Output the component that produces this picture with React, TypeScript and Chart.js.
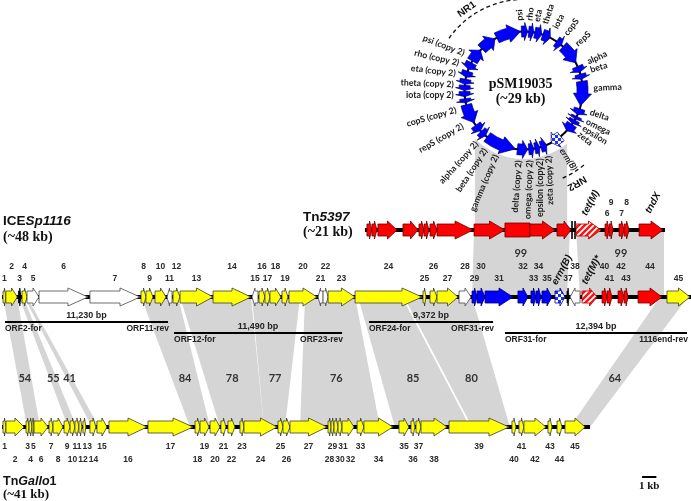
import React, { useEffect, useRef } from "react";
import { Chart, registerables } from "chart.js";

Chart.register(...registerables);

// ---------------- DATA ----------------
// Gene: [label, start kb, end kb, strand (+1 / -1 / 0 = box), kind]
type Gene = [string, number, number, number, string];

const iceGenes: Gene[] = [
  ["1", 0.0, 0.2, 1, "y"], ["2", 0.2, 1.0, 1, "y"], ["3", 1.08, 1.26, 1, "k"],
  ["4", 1.33, 1.68, 1, "y"], ["5", 1.68, 2.52, 1, "w"], ["6", 2.52, 5.94, 1, "w"],
  ["7", 6.08, 9.58, 1, "w"], ["8", 9.65, 10.0, 1, "y"], ["9", 10.0, 10.49, 1, "y"],
  ["10", 10.63, 11.4, 1, "y"], ["11", 11.47, 11.82, -1, "w"], ["12", 11.89, 12.38, 1, "y"],
  ["13", 12.38, 14.69, 1, "y"], ["14", 14.69, 17.34, 1, "y"], ["15", 17.41, 17.83, -1, "w"],
  ["16", 17.9, 18.32, 1, "y"], ["17", 18.32, 18.67, 1, "y"], ["18", 18.67, 19.44, 1, "y"],
  ["19", 19.51, 19.93, 1, "y"], ["20", 20.0, 21.96, 1, "y"], ["21", 22.03, 22.38, -1, "w"],
  ["22", 22.38, 22.73, 1, "w"], ["23", 22.73, 24.62, 1, "y"], ["24", 24.62, 29.3, 1, "y"],
  ["25", 29.37, 29.58, 1, "y"], ["26", 29.86, 30.35, 1, "y"], ["27", 30.35, 31.82, 1, "y"],
  ["28", 31.89, 32.73, 1, "w"], ["29", 32.8, 33.15, 1, "b"], ["30", 33.15, 33.71, 1, "b"],
  ["31", 33.71, 35.66, 1, "b"], ["32", 36.01, 36.71, 1, "b"], ["33", 36.92, 37.27, 1, "b"],
  ["34", 37.27, 37.62, 1, "b"], ["35", 37.69, 38.39, 1, "b"], ["erm(B)", 38.6, 39.3, 1, "check"],
  ["37", 39.44, 39.58, 1, "k"], ["38", 39.65, 40.35, -1, "w"], ["tet(M)*", 40.49, 41.54, 1, "hatch"],
  ["40", 41.89, 42.24, 1, "r"], ["41", 42.24, 42.59, 1, "r"], ["42", 43.01, 43.43, 1, "r"],
  ["43", 43.43, 43.71, 1, "r"], ["44", 44.41, 46.08, 1, "r"], ["45", 46.43, 48.04, 1, "y"],
];
const iceBackbone = [-0.07, 48.11];

const tnGenes: Gene[] = [
  ["", 25.45, 25.8, 1, "r"], ["", 25.8, 26.15, 1, "r"], ["", 26.22, 27.55, 1, "r"],
  ["", 27.97, 29.02, 1, "r"], ["", 29.09, 29.44, 1, "r"], ["", 29.44, 29.79, 1, "r"],
  ["", 29.86, 30.35, 1, "r"], ["", 30.35, 32.87, 1, "r"], ["", 32.94, 35.1, 1, "r"],
  ["", 35.1, 36.85, 0, "r"], ["", 36.85, 38.6, 1, "r"], ["", 38.74, 39.72, 1, "r"],
  ["tet(M)", 40.07, 41.82, 1, "hatch"], ["6", 42.1, 42.38, 1, "r"], ["9", 42.38, 42.66, 1, "r"],
  ["7", 43.08, 43.43, 1, "r"], ["8", 43.43, 43.78, 1, "r"], ["tndX", 44.48, 46.15, 1, "r"],
];
const tnBackbone = [25.31, 46.29];
const tnBars = [39.79, 40.0];
const tnUpperLabels = ["8", "9"];

const galloGenes: Gene[] = [
  ["1", 0.0, 0.21, 1, "y"], ["2", 0.21, 1.47, 1, "y"], ["3", 1.61, 1.82, 1, "y"],
  ["4", 1.82, 2.03, 1, "y"], ["5", 2.03, 2.17, 1, "y"], ["6", 2.17, 3.15, 1, "y"],
  ["7", 3.22, 3.5, 1, "y"], ["8", 3.5, 4.2, 1, "y"], ["9", 4.27, 4.69, 1, "y"],
  ["10", 4.69, 5.03, 1, "y"], ["11", 5.03, 5.31, 1, "y"], ["12", 5.31, 5.52, 1, "y"],
  ["13", 5.59, 5.8, 1, "y"], ["14", 6.08, 6.5, 1, "y"], ["15", 6.57, 7.27, 1, "y"],
  ["16", 7.41, 10.07, 1, "y"], ["17", 10.14, 13.29, 1, "y"], ["18", 13.43, 13.78, 1, "y"],
  ["19", 13.78, 14.41, 1, "y"], ["20", 14.48, 15.17, 1, "y"], ["21", 15.24, 15.59, 1, "y"],
  ["22", 15.73, 16.22, 1, "y"], ["23", 16.57, 16.85, 1, "y"], ["24", 16.85, 19.16, 1, "y"],
  ["25", 19.23, 19.58, 1, "y"], ["26", 19.58, 20.07, 1, "y"], ["27", 20.07, 22.66, 1, "y"],
  ["28", 22.73, 22.94, 1, "y"], ["29", 22.94, 23.15, 1, "y"], ["30", 23.15, 23.43, 1, "y"],
  ["31", 23.43, 23.71, 1, "y"], ["32", 23.71, 24.55, 1, "y"], ["33", 24.76, 25.24, 1, "y"],
  ["34", 25.24, 27.27, 1, "y"], ["35", 27.69, 28.39, 1, "y"], ["36", 28.53, 28.81, 1, "y"],
  ["37", 28.88, 29.23, 1, "y"], ["38", 29.23, 31.05, 1, "y"], ["39", 31.19, 35.38, 1, "y"],
  ["40", 35.59, 35.87, 1, "y"], ["41", 36.08, 36.43, 1, "y"], ["42", 36.43, 37.97, 1, "y"],
  ["43", 38.11, 38.39, 1, "y"], ["44", 38.74, 39.09, 1, "y"], ["45", 39.3, 40.7, 1, "y"],
];
const galloBackbone = [-0.07, 41.05];

// Homology bands: [identity %, ICE start, ICE end, TnGallo1 start, TnGallo1 end] (kb)
const iceGalloBands: [string, number, number, number, number][] = [
  ["54", 0.0, 0.98, 1.68, 2.59],
  ["55", 1.12, 1.4, 4.55, 5.15],
  ["41", 1.47, 1.68, 6.22, 6.71],
  ["84", 9.65, 12.24, 13.08, 14.48],
  ["78", 12.38, 17.34, 15.17, 18.25],
  ["77", 17.41, 20.77, 18.25, 19.72],
  ["76", 21.12, 24.62, 20.77, 26.36],
  ["85", 24.83, 27.9, 27.41, 32.66],
  ["80", 28.04, 32.8, 32.8, 35.45],
  ["64", 45.94, 47.9, 39.65, 41.05],
];
// [identity %, Tn5397 start, Tn5397 end, ICE start, ICE end]
const tnIceBands: [string, number, number, number, number][] = [
  ["99", 32.94, 39.65, 32.8, 39.44],
  ["99", 40.07, 46.22, 40.35, 46.22],
];
// pSM19035 region shared with Tn5397 (kb on Tn5397 axis)
const ringBand = [33.0, 39.45];

// Primer spans: [size, forward primer, reverse primer, start kb, end kb]
const primerSpans: [string, string, string, number, number][] = [
  ["11,230 bp", "ORF2-for", "ORF11-rev", 0.14, 11.54],
  ["11,490 bp", "ORF12-for", "ORF23-rev", 11.96, 23.71],
  ["9,372 bp", "ORF24-for", "ORF31-rev", 25.59, 34.27],
  ["12,394 bp", "ORF31-for", "1116end-rev", 35.1, 47.83],
];

// pSM19035 ring genes: [name, start deg, end deg (clockwise from top), direction, kind]
const ringGenes: [string, number, number, number, string][] = [
  ["orfA", 300, 313, 1, "b"], ["orfB", 315, 331, 1, "b"], ["psi", 333, 357, 1, "b"],
  ["rho", 358, 364, 1, "b"], ["eta", 5, 10, 1, "b"], ["theta", 11, 18, 1, "b"],
  ["iota", 19, 27, 1, "b"], ["copS", 34, 40, 1, "b"], ["repS", 42, 62, 1, "b"],
  ["alpha", 66, 72, 1, "b"], ["beta", 74, 79, 1, "b"], ["gamma", 81, 105, 1, "b"],
  ["delta", 108, 114, 1, "b"], ["omega", 116, 119, 1, "b"], ["epsilon", 120, 124, 1, "b"],
  ["zeta", 125, 133, 1, "b"], ["erm(B)", 141, 152, 1, "check"],
  ["zeta2", 157, 163, -1, "b"], ["epsilon2", 164, 169, -1, "b"], ["omega2", 170, 175, -1, "b"],
  ["delta2", 176, 186, -1, "b"], ["gamma2", 188, 218, -1, "b"], ["beta2", 220, 226, -1, "b"],
  ["alpha2", 227, 234, -1, "b"], ["repS2", 237, 256, -1, "b"], ["copS2", 258, 262, -1, "b"],
  ["iota2", 264, 269, -1, "b"], ["theta2", 270, 275, -1, "b"], ["eta2", 276, 281, -1, "b"],
  ["rho2", 283, 289, -1, "b"], ["psi2", 291, 298, -1, "b"],
];
// Ring labels: [text, angle deg, side, optional rotation]
const ringLabels: [string, number, string, number?][] = [
  ["psi", 357, "out"], ["rho", 5, "out"], ["eta", 11, "out"], ["theta", 18, "out"],
  ["iota", 27, "out"], ["copS", 37, "out"], ["repS", 49, "out"], ["alpha", 66, "out"],
  ["beta", 73, "out"], ["gamma", 88, "out"], ["delta", 108, "out"], ["omega", 116, "out"],
  ["epsilon", 122, "out"], ["zeta", 128, "out"], ["erm(B)", 147, "out"],
  ["zeta (copy 2)", 159, "in", -92], ["epsilon (copy2)", 166, "in", -90],
  ["omega (copy 2)", 175, "in", -88], ["delta (copy 2)", 184, "in", -86],
  ["gamma (copy 2)", 203, "in"], ["beta (copy 2)", 213, "in"], ["alpha (copy 2)", 222, "in"],
  ["repS (copy 2)", 240, "in"], ["copS (copy 2)", 254, "in"], ["iota (copy 2)", 266, "in", 0],
  ["theta (copy 2)", 275, "in", 2], ["eta (copy 2)", 284, "in", 7], ["rho (copy 2)", 293, "in", 13],
  ["psi (copy 2)", 302, "in", 21],
];

// ---------------- LAYOUT ----------------
const L = {
  xMin: -0.21, xMax: 48.11,
  tnY: 230, iceY: 297, galloY: 427,
  iceUp: 267, iceLow: 279, tnUp: 203, tnLow: 214, galloUp: 447, galloLow: 460,
  ringKb: 36.4, ringY: 90.5, ringR: 59,
  idY: 378, tnIdY: 253,
  primerUp: 322, primerLow: 333,
  scaleKb: 44.69, scaleY: 477,
};
const BAND = "#d5d5d5";
const SANS = "'Liberation Sans', Arial, sans-serif";
const SERIF = "'Liberation Serif', 'Times New Roman', serif";
const LATO = "Lato, 'Open Sans', sans-serif";

function makePatterns(ctx: CanvasRenderingContext2D) {
  const h = document.createElement("canvas");
  h.width = 6; h.height = 6;
  const g = h.getContext("2d")!;
  g.fillStyle = "#fff"; g.fillRect(0, 0, 6, 6);
  g.strokeStyle = "#ff1010"; g.lineWidth = 2.4;
  g.beginPath();
  g.moveTo(-1, 7); g.lineTo(7, -1);
  g.moveTo(-4, 4); g.lineTo(4, -4);
  g.moveTo(2, 10); g.lineTo(10, 2);
  g.stroke();
  const c = document.createElement("canvas");
  c.width = 6; c.height = 6;
  const k = c.getContext("2d")!;
  k.fillStyle = "#fff"; k.fillRect(0, 0, 6, 6);
  k.fillStyle = "#1f2fff"; k.fillRect(0, 0, 3, 3); k.fillRect(3, 3, 3, 3);
  return { hatch: ctx.createPattern(h, "repeat"), check: ctx.createPattern(c, "repeat") };
}

function kindStyle(kind: string, pats: any): [any, string] {
  switch (kind) {
    case "y": return ["#ffff00", "#3a3a3a"];
    case "w": return ["#ffffff", "#4a4a4a"];
    case "b": return ["#0000ff", "#00006a"];
    case "r": return ["#ff0000", "#6a0000"];
    case "k": return ["#000000", "#000000"];
    case "hatch": return [pats.hatch, "#b00000"];
    case "check": return [pats.check, "#00008a"];
  }
  return ["#ccc", "#333"];
}

function geneArrow(ctx: CanvasRenderingContext2D, x1: number, x2: number, yc: number, dir: number, fill: any, stroke: string) {
  const len = x2 - x1;
  const bh = 6, hh = 9;
  ctx.beginPath();
  if (dir === 0) {
    ctx.rect(x1, yc - 7, len, 14);
  } else {
    const h = Math.min(len * 0.5, 20);
    if (dir > 0) {
      const b = x2 - h;
      ctx.moveTo(x1, yc - bh); ctx.lineTo(b, yc - bh); ctx.lineTo(b, yc - hh); ctx.lineTo(x2, yc);
      ctx.lineTo(b, yc + hh); ctx.lineTo(b, yc + bh); ctx.lineTo(x1, yc + bh);
    } else {
      const b = x1 + h;
      ctx.moveTo(x2, yc - bh); ctx.lineTo(b, yc - bh); ctx.lineTo(b, yc - hh); ctx.lineTo(x1, yc);
      ctx.lineTo(b, yc + hh); ctx.lineTo(b, yc + bh); ctx.lineTo(x2, yc + bh);
    }
    ctx.closePath();
  }
  ctx.fillStyle = fill; ctx.fill();
  ctx.lineWidth = 0.8; ctx.strokeStyle = stroke; ctx.stroke();
}

function ringArrow(ctx: CanvasRenderingContext2D, cx: number, cy: number, R: number, a1: number, a2: number, dir: number, fill: any, stroke: string) {
  const rad = (d: number) => ((d - 90) * Math.PI) / 180;
  const pt = (d: number, r: number): [number, number] => [cx + r * Math.cos(rad(d)), cy + r * Math.sin(rad(d))];
  const span = a2 - a1;
  const h = Math.min(span * 0.5, 14);
  const bi = R - 5.5, bo = R + 5.5, hi = R - 9, ho = R + 9;
  ctx.beginPath();
  if (dir > 0) {
    const b = a2 - h;
    ctx.arc(cx, cy, bo, rad(a1), rad(b), false);
    ctx.lineTo(...pt(b, ho)); ctx.lineTo(...pt(a2, R)); ctx.lineTo(...pt(b, hi)); ctx.lineTo(...pt(b, bi));
    ctx.arc(cx, cy, bi, rad(b), rad(a1), true);
  } else {
    const b = a1 + h;
    ctx.arc(cx, cy, bo, rad(a2), rad(b), true);
    ctx.lineTo(...pt(b, ho)); ctx.lineTo(...pt(a1, R)); ctx.lineTo(...pt(b, hi)); ctx.lineTo(...pt(b, bi));
    ctx.arc(cx, cy, bi, rad(b), rad(a2), false);
  }
  ctx.closePath();
  ctx.fillStyle = fill; ctx.fill();
  ctx.lineWidth = 0.7; ctx.strokeStyle = stroke; ctx.stroke();
}

function drawRow(ctx: CanvasRenderingContext2D, items: { t: string; x: number }[], y: number) {
  items.sort((a, b) => a.x - b.x);
  let lastRight = -Infinity;
  for (const it of items) {
    const w = ctx.measureText(it.t).width;
    let cx = it.x;
    if (cx - w / 2 < lastRight + 1) cx = lastRight + 1 + w / 2;
    ctx.fillText(it.t, cx, y);
    lastRight = cx + w / 2;
  }
}

function drawRich(ctx: CanvasRenderingContext2D, parts: [string, string][], x: number, y: number) {
  let cx = x;
  for (const [t, f] of parts) {
    ctx.font = f;
    ctx.fillText(t, cx, y);
    cx += ctx.measureText(t).width;
  }
}

const genomePlugin = {
  id: "genomeMap",
  afterDraw(chart: any) {
    const ctx: CanvasRenderingContext2D = chart.ctx;
    const X = (v: number) => chart.scales.x.getPixelForValue(v);
    const Y = (v: number) => chart.scales.y.getPixelForValue(v);
    const pats = makePatterns(ctx);
    ctx.save();

    const poly = (pts: number[][]) => {
      ctx.beginPath();
      pts.forEach((p, i) => (i ? ctx.lineTo(p[0], p[1]) : ctx.moveTo(p[0], p[1])));
      ctx.closePath();
      ctx.fill();
    };

    // ---- homology bands ----
    ctx.fillStyle = BAND;
    for (const [, a1, a2, b1, b2] of iceGalloBands)
      poly([[X(a1), Y(L.iceY)], [X(a2), Y(L.iceY)], [X(b2), Y(L.galloY)], [X(b1), Y(L.galloY)]]);
    for (const [, a1, a2, b1, b2] of tnIceBands)
      poly([[X(a1), Y(L.tnY)], [X(a2), Y(L.tnY)], [X(b2), Y(L.iceY)], [X(b1), Y(L.iceY)]]);
    poly([[X(ringBand[0]), Y(L.ringY)], [X(ringBand[1]), Y(L.ringY)], [X(ringBand[1]), Y(L.tnY)], [X(ringBand[0]), Y(L.tnY)]]);

    // ---- backbones ----
    ctx.strokeStyle = "#000";
    ctx.lineWidth = 4;
    const bb = (r: number[], y: number) => {
      ctx.beginPath(); ctx.moveTo(X(r[0]), Y(y)); ctx.lineTo(X(r[1]), Y(y)); ctx.stroke();
    };
    bb(iceBackbone, L.iceY); bb(tnBackbone, L.tnY); bb(galloBackbone, L.galloY);
    ctx.lineWidth = 1.6;
    for (const b of tnBars) {
      ctx.beginPath(); ctx.moveTo(X(b), Y(L.tnY) - 9); ctx.lineTo(X(b), Y(L.tnY) + 9); ctx.stroke();
    }

    // ---- genes ----
    const drawGenes = (genes: Gene[], y: number) => {
      for (const [, s, e, d, k] of genes) {
        const [f, st] = kindStyle(k, pats);
        geneArrow(ctx, X(s), X(e), Y(y), d, f, st);
      }
    };
    drawGenes(iceGenes, L.iceY); drawGenes(tnGenes, L.tnY); drawGenes(galloGenes, L.galloY);

    // ---- plasmid ring ----
    const cx = X(L.ringKb), cy = Y(L.ringY), R = L.ringR;
    const P = (deg: number, r: number): [number, number] => [cx + r * Math.sin((deg * Math.PI) / 180), cy - r * Math.cos((deg * Math.PI) / 180)];
    ctx.fillStyle = "#fff";
    ctx.beginPath(); ctx.arc(cx, cy, R + 9.5, 0, Math.PI * 2); ctx.fill();
    ctx.strokeStyle = "#000"; ctx.lineWidth = 2;
    ctx.beginPath(); ctx.arc(cx, cy, R, 0, Math.PI * 2); ctx.stroke();
    for (const [, a1, a2, d, k] of ringGenes) {
      const [f, st] = kindStyle(k, pats);
      ringArrow(ctx, cx, cy, R, a1, a2, d, f, st);
    }
    // NR1 / NR2 dashed arcs
    ctx.setLineDash([4, 3]); ctx.lineWidth = 1.3; ctx.strokeStyle = "#111";
    const rad = (d: number) => ((d - 90) * Math.PI) / 180;
    ctx.beginPath(); ctx.arc(cx, cy, 91, rad(305), rad(356)); ctx.stroke();
    ctx.beginPath(); ctx.arc(cx, cy, 96, rad(141), rad(156)); ctx.stroke();
    ctx.setLineDash([]);
    ctx.fillStyle = "#111";
    ctx.font = `bold 10px ${SANS}`;
    ctx.textAlign = "center"; ctx.textBaseline = "middle";
    {
      const [x, y] = P(325, 99);
      ctx.save(); ctx.translate(x, y); ctx.rotate((-35 * Math.PI) / 180); ctx.fillText("NR1", 0, 0); ctx.restore();
      const [x2, y2] = P(150, 107);
      ctx.save(); ctx.translate(x2, y2); ctx.rotate((150 * Math.PI) / 180); ctx.fillText("NR2", 0, 0); ctx.restore();
    }
    // ring labels
    ctx.fillStyle = "#1a1a1a";
    for (const [txt, deg, side, rot] of ringLabels) {
      const [x, y] = P(deg, 70);
      const r = rot !== undefined ? rot : side === "out" ? deg - 90 : deg - 270;
      ctx.font = txt.startsWith("erm") ? `italic bold 8.8px ${LATO}` : `bold 8.8px ${LATO}`;
      ctx.save(); ctx.translate(x, y); ctx.rotate((r * Math.PI) / 180);
      ctx.textAlign = side === "out" ? "left" : "right"; ctx.textBaseline = "middle";
      ctx.fillText(txt, 0, 0);
      ctx.restore();
    }
    ctx.fillStyle = "#111"; ctx.textAlign = "center"; ctx.textBaseline = "middle";
    ctx.font = `bold 14px ${SERIF}`;
    ctx.fillText("pSM19035", cx - 3, cy - 6);
    ctx.fillText("(~29 kb)", cx - 3, cy + 9);

    // ---- gene labels ----
    const geneLabels = (genes: Gene[], trackY: number, upY: number, lowY: number, isUp: (t: string) => boolean) => {
      ctx.font = `bold 8.5px ${SANS}`;
      ctx.fillStyle = "#2a2a2a"; ctx.textAlign = "center"; ctx.textBaseline = "middle";
      const up: { t: string; x: number }[] = [];
      const low: { t: string; x: number }[] = [];
      for (const [t, s, e] of genes) {
        if (!t) continue;
        const xm = X((s + e) / 2);
        if (/^\d+$/.test(t)) (isUp(t) ? up : low).push({ t, x: xm });
        else {
          ctx.save();
          ctx.font = `italic bold 10px ${SANS}`;
          ctx.fillStyle = "#111";
          ctx.translate(xm + 2, Y(trackY) - 27); ctx.rotate((-62 * Math.PI) / 180);
          ctx.fillText(t, 0, 0);
          ctx.restore();
        }
      }
      drawRow(ctx, up, Y(upY)); drawRow(ctx, low, Y(lowY));
    };
    geneLabels(iceGenes, L.iceY, L.iceUp, L.iceLow, (t) => +t % 2 === 0);
    geneLabels(galloGenes, L.galloY, L.galloUp, L.galloLow, (t) => +t % 2 === 1);
    geneLabels(tnGenes, L.tnY, L.tnUp, L.tnLow, (t) => tnUpperLabels.includes(t));

    // ---- identity values ----
    ctx.font = `bold 11px ${LATO}`;
    ctx.fillStyle = "#333"; ctx.textAlign = "center"; ctx.textBaseline = "middle";
    for (const [id, a1, a2, b1, b2] of iceGalloBands) {
      const t = (a1 + a2) / 2, b = (b1 + b2) / 2;
      ctx.fillText(id, X(t + 0.63 * (b - t)), Y(L.idY));
    }
    for (const [id, a1, a2, b1, b2] of tnIceBands) {
      ctx.fillText(id, X((a1 + a2 + b1 + b2) / 4), Y(L.tnIdY));
    }

    // ---- primer spans ----
    primerSpans.forEach(([size, f, r, s, e], i) => {
      const y = Y(i % 2 === 0 ? L.primerUp : L.primerLow);
      ctx.strokeStyle = "#000"; ctx.lineWidth = 2;
      ctx.beginPath(); ctx.moveTo(X(s), y); ctx.lineTo(X(e), y); ctx.stroke();
      ctx.fillStyle = "#222"; ctx.textBaseline = "middle";
      ctx.font = `bold 9px ${SANS}`; ctx.textAlign = "center";
      ctx.fillText(size, (X(s) + X(e)) / 2, y - 6);
      ctx.font = `bold 8.5px ${SANS}`;
      ctx.textAlign = "left"; ctx.fillText(f, X(s), y + 6.5);
      ctx.textAlign = "right"; ctx.fillText(r, X(e) + 1, y + 6.5);
    });

    // ---- titles ----
    ctx.fillStyle = "#111"; ctx.textAlign = "left"; ctx.textBaseline = "middle";
    drawRich(ctx, [["ICE", `bold 13.5px ${SANS}`], ["Sp1116", `italic bold 13.5px ${SANS}`]], 3, 221);
    ctx.font = `bold 14px ${SERIF}`; ctx.fillText("(~48 kb)", 3, 237);
    drawRich(ctx, [["Tn", `bold 13.5px ${SANS}`], ["5397", `italic bold 13.5px ${SANS}`]], 303, 217);
    ctx.font = `bold 14px ${SERIF}`; ctx.fillText("(~21 kb)", 303, 232);
    drawRich(ctx, [["Tn", `bold 12.5px ${SANS}`], ["Gallo", `italic bold 12.5px ${SANS}`], ["1", `bold 12.5px ${SANS}`]], 3, 482);
    ctx.font = `bold 13px ${SERIF}`; ctx.fillText("(~41 kb)", 3, 495);

    // ---- scale bar ----
    ctx.strokeStyle = "#000"; ctx.lineWidth = 2;
    ctx.beginPath(); ctx.moveTo(X(L.scaleKb), Y(L.scaleY)); ctx.lineTo(X(L.scaleKb + 1), Y(L.scaleY)); ctx.stroke();
    ctx.font = `bold 11px ${SERIF}`; ctx.textAlign = "center";
    ctx.fillText("1 kb", X(L.scaleKb + 0.5), Y(L.scaleY) + 9);

    ctx.restore();
  },
};

export default function App() {
  const ref = useRef<HTMLCanvasElement>(null);
  useEffect(() => {
    if (!ref.current) return;
    const chart = new Chart(ref.current, {
      type: "scatter",
      data: { datasets: [] },
      options: {
        animation: false,
        responsive: false,
        maintainAspectRatio: false,
        devicePixelRatio: 1,
        layout: { padding: 0 },
        plugins: { legend: { display: false }, tooltip: { enabled: false }, title: { display: false } },
        scales: {
          x: { type: "linear", min: L.xMin, max: L.xMax, display: false },
          y: { type: "linear", min: 0, max: 501, reverse: true, display: false },
        },
      },
      plugins: [genomePlugin],
    } as any);
    return () => chart.destroy();
  }, []);
  return (
    <div style={{ position: "absolute", left: 0, top: 0, width: 691, height: 501, background: "#fff" }}>
      <canvas ref={ref} width={691} height={501} style={{ display: "block" }} />
    </div>
  );
}
